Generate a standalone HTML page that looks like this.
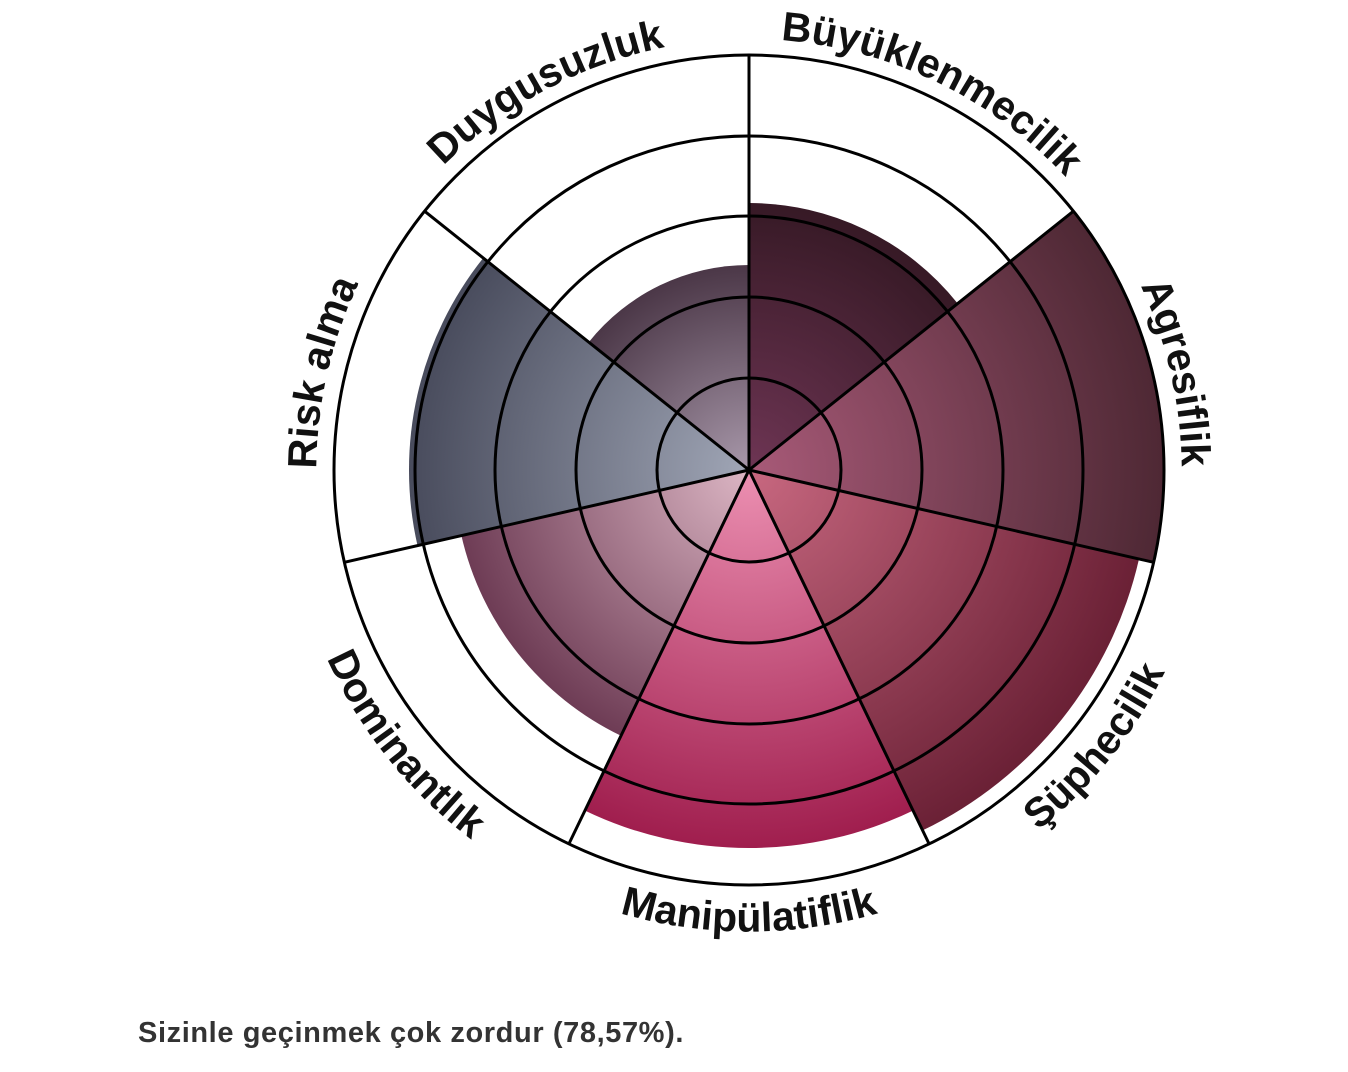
<!DOCTYPE html>
<html><head><meta charset="utf-8"><style>
html,body{margin:0;padding:0;background:#fff;width:1348px;height:1072px;overflow:hidden}
.cap{position:absolute;left:138px;top:1017px;font:bold 29px "Liberation Sans",sans-serif;color:#333;letter-spacing:0.6px}
</style></head><body>
<svg width="1348" height="1072" style="position:absolute;left:0;top:0">
<defs>
<radialGradient id="g1" gradientUnits="userSpaceOnUse" cx="749" cy="470" r="415"><stop offset="0" stop-color="#6e3554"/><stop offset=".65" stop-color="#361925"/></radialGradient>
<radialGradient id="g2" gradientUnits="userSpaceOnUse" cx="749" cy="470" r="415"><stop offset="0" stop-color="#a85a78"/><stop offset="1" stop-color="#4e2834"/></radialGradient>
<radialGradient id="g3" gradientUnits="userSpaceOnUse" cx="749" cy="470" r="415"><stop offset="0" stop-color="#c86880"/><stop offset=".97" stop-color="#6a2035"/></radialGradient>
<radialGradient id="g4" gradientUnits="userSpaceOnUse" cx="749" cy="470" r="415"><stop offset="0" stop-color="#ec90b2"/><stop offset=".91" stop-color="#a01e4e"/></radialGradient>
<radialGradient id="g5" gradientUnits="userSpaceOnUse" cx="749" cy="470" r="415"><stop offset="0" stop-color="#dcb6c4"/><stop offset=".71" stop-color="#6e3c55"/></radialGradient>
<radialGradient id="g6" gradientUnits="userSpaceOnUse" cx="749" cy="470" r="415"><stop offset="0" stop-color="#a0a6b6"/><stop offset=".82" stop-color="#484b5c"/></radialGradient>
<radialGradient id="g7" gradientUnits="userSpaceOnUse" cx="749" cy="470" r="415"><stop offset="0" stop-color="#a898aa"/><stop offset=".5" stop-color="#4a3646"/></radialGradient>
<path id="t1" d="M376.3,248.8 A434,434 0 0 1 1155,623.5"/>
<path id="t2" d="M689.6,40.1 A434,434 0 0 1 881.3,883.1"/>
<path id="t6" d="M616.7,883.1 A434,434 0 0 1 808.4,40.1"/>
<path id="t7" d="M358,658.3 A434,434 0 0 1 1122.1,248.8"/>
<path id="t4" d="M288.8,510.3 A462,462 0 0 0 1209.2,510.3"/>
<path id="t3" d="M493.6,855 A462,462 0 0 0 1067.5,135.3"/>
<path id="t5" d="M430.5,135.3 A462,462 0 0 0 1004.4,855"/>
</defs>
<path d="M749,470 L749,203 A267,267 0 0 1 957.7,303.5 Z" fill="url(#g1)"/>
<path d="M749,470 L1073.4,211.2 A415,415 0 0 1 1153.6,562.3 Z" fill="url(#g2)"/>
<path d="M749,470 L1139,559 A400,400 0 0 1 922.6,830.4 Z" fill="url(#g3)"/>
<path d="M749,470 L913,810.6 A378,378 0 0 1 585,810.6 Z" fill="url(#g4)"/>
<path d="M749,470 L621,735.8 A295,295 0 0 1 461.4,535.6 Z" fill="url(#g5)"/>
<path d="M749,470 L417.5,545.6 A340,340 0 0 1 483.2,258 Z" fill="url(#g6)"/>
<path d="M749,470 L588.7,342.2 A205,205 0 0 1 749,265 Z" fill="url(#g7)"/>
<g fill="none" stroke="#000" stroke-width="3">
<circle cx="749" cy="470" r="92"/><circle cx="749" cy="470" r="173"/><circle cx="749" cy="470" r="254"/><circle cx="749" cy="470" r="334"/><circle cx="749" cy="470" r="415"/>
<path d="M749,470L749,55M749,470L1073.4,211.2M749,470L1153.6,562.3M749,470L929.1,843.9M749,470L568.9,843.9M749,470L344.4,562.3M749,470L424.6,211.2"/>
</g>
<g font-family="Liberation Sans, sans-serif" font-weight="bold" font-size="41" fill="#111" text-anchor="middle">
<text><textPath href="#t1" startOffset="50%">Büyüklenmecilik</textPath></text>
<text><textPath href="#t2" startOffset="50%">Agresiflik</textPath></text>
<text><textPath href="#t6" startOffset="50%">Risk alma</textPath></text>
<text><textPath href="#t7" startOffset="50%">Duygusuzluk</textPath></text>
<text><textPath href="#t4" startOffset="50%">Manipülatiflik</textPath></text>
<text><textPath href="#t3" startOffset="50%">Şüphecilik</textPath></text>
<text><textPath href="#t5" startOffset="50%">Dominantlık</textPath></text>
</g>
</svg>
<div class="cap">Sizinle geçinmek çok zordur (78,57%).</div>
</body></html>
